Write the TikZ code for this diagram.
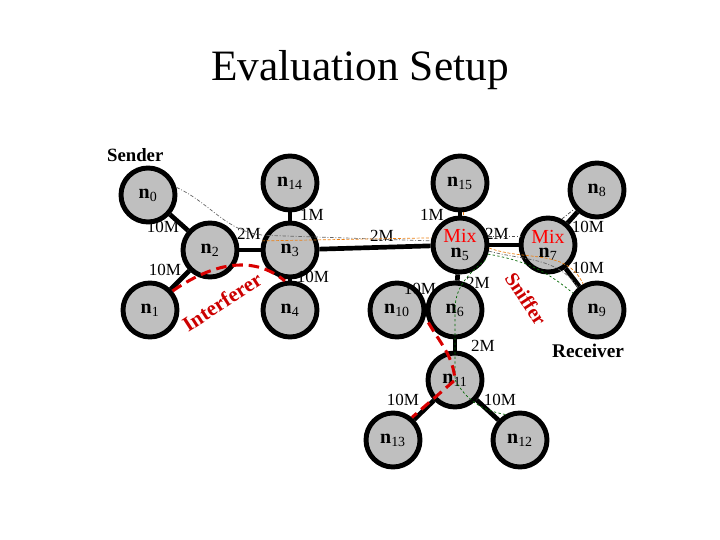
\documentclass[tikz,border=0pt]{standalone}
\usepackage{fontspec}
\setmainfont{Liberation Serif}
\begin{document}
\begin{tikzpicture}[x=0.03cm, y=0.03cm,
    host/.style={circle, draw=black, line width=4.2pt, fill=black!25,
      minimum size=1.62cm, inner sep=0pt, align=center,
      font=\fontsize{17}{17}\selectfont},
    link/.style={line width=4pt, black},
    bw/.style={font=\fontsize{14.5}{14.5}\selectfont},
    interf/.style={red!85!black, line width=2.6pt, dash pattern=on 9pt off 5pt},
    tracegray/.style={gray!80!black, line width=0.6pt, dash pattern=on 3pt off 1.5pt on 0.8pt off 1.5pt},
    traceorange/.style={orange!70!brown, line width=0.6pt, dash pattern=on 2.5pt off 1.5pt},
    tracegreen/.style={green!40!black, line width=0.6pt, dash pattern=on 2pt off 2pt},
    tracedark/.style={black!70, line width=0.6pt, dash pattern=on 3pt off 1.5pt on 0.8pt off 1.5pt}]

    \useasboundingbox (0,0) rectangle (720,-540);

    % ==================================================
    % Titel
    % ==================================================
    \node (title) at (360,-70) {\fontsize{37}{37}\selectfont Evaluation Setup};
    \node[anchor=west, font=\bfseries\fontsize{16}{16}\selectfont] (sender) at (103,-155) {Sender};
    \node[anchor=west, font=\bfseries\fontsize{16.5}{16.5}\selectfont] (receiver) at (548,-351) {Receiver};

    % ==================================================
    % Knoten
    % ==================================================
    \node[host] (n0)  at (148,-195) {{\bfseries n}\textsubscript{0}};
    \node[host] (n14) at (290,-183) {{\bfseries n}\textsubscript{14}};
    \node[host] (n15) at (460,-183) {{\bfseries n}\textsubscript{15}};
    \node[host] (n8)  at (597,-190) {{\bfseries n}\textsubscript{8}};
    \node[host] (n2)  at (210,-250) {{\bfseries n}\textsubscript{2}};
    \node[host] (n3)  at (290,-250) {{\bfseries n}\textsubscript{3}};
    \node[host] (n5)  at (460,-245) {\textcolor{red}{Mix}\\[-5pt]{\bfseries n}\textsubscript{5}};
    \node[host] (n7)  at (548,-245) {\textcolor{red}{Mix}\\[-5pt]{\bfseries n}\textsubscript{7}};
    \node[host] (n1)  at (150,-310) {{\bfseries n}\textsubscript{1}};
    \node[host] (n4)  at (290,-310) {{\bfseries n}\textsubscript{4}};
    \node[host] (n10) at (397,-310) {{\bfseries n}\textsubscript{10}};
    \node[host] (n6)  at (455,-310) {{\bfseries n}\textsubscript{6}};
    \node[host] (n9)  at (597,-310) {{\bfseries n}\textsubscript{9}};
    \node[host] (n11) at (455,-380) {{\bfseries n}\textsubscript{11}};
    \node[host] (n13) at (393,-440) {{\bfseries n}\textsubscript{13}};
    \node[host] (n12) at (520,-440) {{\bfseries n}\textsubscript{12}};

    % ==================================================
    % Verbindungen
    % ==================================================
    \draw[link] (n0) -- (n2);
    \draw[link] (n1) -- (n2);
    \draw[link] (n2) -- (n3);
    \draw[link] (n3) -- (n14);
    \draw[link] (n3) -- (n4);
    \draw[link] (n3) -- (n5);
    \draw[link] (n5) -- (n15);
    \draw[link] (n5) -- (n7);
    \draw[link] (n7) -- (n8);
    \draw[link] (n7) -- (n9);
    \draw[link] (n5) -- (n6);
    \draw[link] (n6) -- (n10);
    \draw[link] (n6) -- (n11);
    \draw[link] (n11) -- (n13);
    \draw[link] (n11) -- (n12);

    % Bandbreiten
    \node[bw] at (163,-227) {10M};
    \node[bw] at (165,-270) {10M};
    \node[bw] at (249,-234) {2M};
    \node[bw] at (312,-215) {1M};
    \node[bw] at (313,-277) {10M};
    \node[bw] at (382,-236) {2M};
    \node[bw] at (432,-215) {1M};
    \node[bw] at (497,-234) {2M};
    \node[bw] at (588,-227) {10M};
    \node[bw] at (588,-268) {10M};
    \node[bw] at (478,-283) {2M};
    \node[bw] at (420,-289) {10M};
    \node[bw] at (483,-346) {2M};
    \node[bw] at (403,-400) {10M};
    \node[bw] at (500,-400) {10M};

    % ==================================================
    % Verkehr (Spuren)
    % ==================================================
    \draw[tracegray] (n0.15) to[out=-25, in=175] (n3.150) -- (n5.172);
    \draw[tracegray] (n5.-12) to[out=-15, in=125] (n9.130);
    \draw[traceorange] (n3.162) -- (n5.166);
    \draw[traceorange] (n5.-6) to[out=-20, in=115] (n9.118);
    \draw[traceorange] ([xshift=3pt]n15.south) -- ([xshift=3pt]n5.north);
    \draw[tracedark] (n5.18) -- (n7.162);
    \draw[tracedark] (n7.62) -- (n8.220);
    \draw[tracegreen] (n5.-30) to[out=-140, in=90] (n6.center) -- (n11.center)
      to[out=-60, in=170] (n12.120);
    \draw[tracegreen] (n5.-18) to[out=-10, in=140] (n9.145);

    % ==================================================
    % Stoerer
    % ==================================================
    \draw[interf] (n1.40) to[out=35, in=140] (n4.100);
    \draw[interf] (n6.205) to[out=-60, in=95] (n11.center) -- (n13.50);

    \node[red!80!black, font=\bfseries\fontsize{18}{18}\selectfont, rotate=33]
      (interferer) at (222,-302) {Interferer};
    \node[red!80!black, font=\bfseries\fontsize{17}{17}\selectfont, rotate=-57]
      (sniffer) at (526,-299) {Sniffer};

\end{tikzpicture}
\end{document}
